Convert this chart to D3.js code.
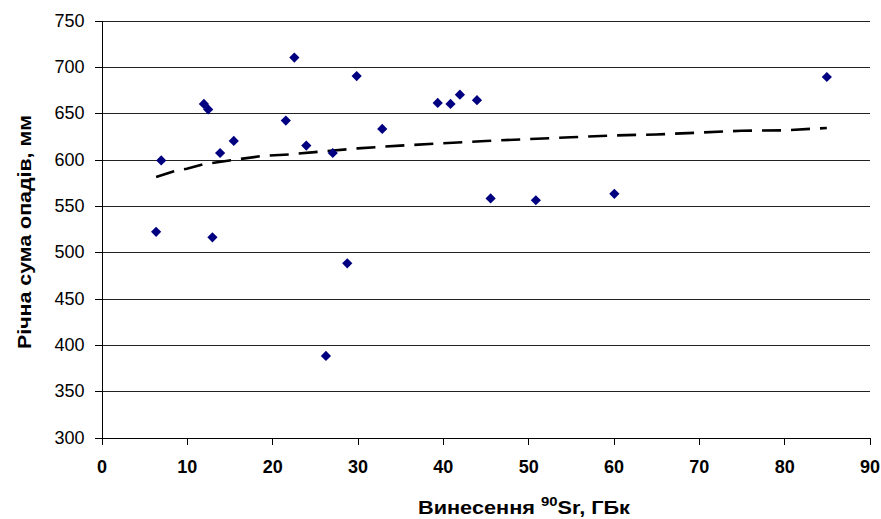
<!DOCTYPE html>
<html>
<head>
<meta charset="utf-8">
<script src="https://cdn.jsdelivr.net/npm/d3@7.9.0/dist/d3.min.js"></script>
<style>
  body { margin: 0; background: #fff; }
  svg { display: block; font-family: "Liberation Sans", Arial, sans-serif; }
</style>
</head>
<body>
<div id="chart"></div>
<script>
// measured points: 90Sr washout (GBq) vs annual precipitation (mm)
const sr90 = [6.4, 7.0, 12.0, 12.5, 13.0, 13.9, 15.5, 21.6, 22.6, 24.0, 26.3, 27.1,
              28.8, 29.9, 32.9, 39.4, 40.9, 42.0, 44.0, 45.6, 50.9, 60.1, 85.0];
const precip = [522, 599, 660, 654, 516, 607, 620, 642, 710, 615, 388, 607,
                488, 690, 633, 661, 660, 670, 664, 558, 556, 563, 689];

// trend line
const trendX = [6.4, 8.4, 10, 12, 15, 19, 22, 25, 30, 35, 40, 45, 50, 55, 60, 65, 70, 75, 80, 85];
const trendY = [581, 587, 590, 595, 599, 604, 605.5, 608, 612, 615, 617.5, 620, 622, 624,
                626, 627, 629, 631, 631.5, 634];

const xTicks = [0, 10, 20, 30, 40, 50, 60, 70, 80, 90];
const yTicks = [300, 350, 400, 450, 500, 550, 600, 650, 700, 750];

const width = 881, height = 519;
const area = { left: 101.5, right: 869.5, top: 20.5, bottom: 437.5 };

const svg = d3.select('#chart').append('svg')
  .attr('width', width)
  .attr('height', height);

const x = d3.scaleLinear().domain([0, 90]).range([area.left, area.right]);
const y = d3.scaleLinear().domain([300, 750]).range([area.bottom, area.top]);

// gridlines
svg.append('g')
  .attr('transform', `translate(${area.left},0)`)
  .call(d3.axisLeft(y).tickValues(yTicks).tickFormat('').tickSize(-(area.right - area.left)))
  .call(g => g.select('.domain').remove())
  .call(g => g.selectAll('line').attr('stroke', '#222').attr('shape-rendering', 'crispEdges'));

// y axis
svg.append('g')
  .attr('transform', `translate(${area.left},0)`)
  .call(d3.axisLeft(y).tickValues(yTicks).tickSize(7).tickPadding(10).tickSizeOuter(0))
  .call(g => g.selectAll('path, line').attr('stroke', '#000').attr('shape-rendering', 'crispEdges'))
  .call(g => g.selectAll('text').attr('font-size', 18).attr('fill', '#000')
    .attr('font-family', '"Liberation Sans", Arial, sans-serif'));

// x axis
svg.append('g')
  .attr('transform', `translate(0,${area.bottom})`)
  .call(d3.axisBottom(x).tickValues(xTicks).tickSize(7).tickPadding(16).tickSizeOuter(0))
  .call(g => g.selectAll('path, line').attr('stroke', '#000').attr('shape-rendering', 'crispEdges'))
  .call(g => g.selectAll('text').attr('font-size', 18).attr('font-weight', 'bold').attr('fill', '#000')
    .attr('font-family', '"Liberation Sans", Arial, sans-serif'));

// trend line
const line = d3.line().x((d, i) => x(trendX[i])).y(d => y(d));
svg.append('path')
  .datum(trendY)
  .attr('d', line)
  .attr('fill', 'none')
  .attr('stroke', '#000')
  .attr('stroke-width', 2.6)
  .attr('stroke-dasharray', '19,10');

// points
svg.append('g')
  .selectAll('path')
  .data(sr90)
  .join('path')
  .attr('d', d3.symbol(d3.symbolSquare, 52))
  .attr('transform', (d, i) => `translate(${x(d)},${y(precip[i])}) rotate(45)`)
  .attr('fill', '#000080');

// axis titles
const xt = svg.append('text')
  .attr('x', 524)
  .attr('y', 514)
  .attr('text-anchor', 'middle')
  .attr('font-size', 19)
  .attr('font-weight', 'bold')
  .attr('textLength', 212)
  .attr('lengthAdjust', 'spacingAndGlyphs');
xt.append('tspan').text('Винесення ');
xt.append('tspan').attr('font-size', 13).attr('dy', -8).text('90');
xt.append('tspan').attr('dy', 8).text('Sr, ГБк');

svg.append('text')
  .attr('transform', 'translate(31,232) rotate(-90)')
  .attr('text-anchor', 'middle')
  .attr('font-size', 19)
  .attr('font-weight', 'bold')
  .attr('textLength', 234)
  .attr('lengthAdjust', 'spacingAndGlyphs')
  .text('Річна сума опадів, мм');
</script>
</body>
</html>
